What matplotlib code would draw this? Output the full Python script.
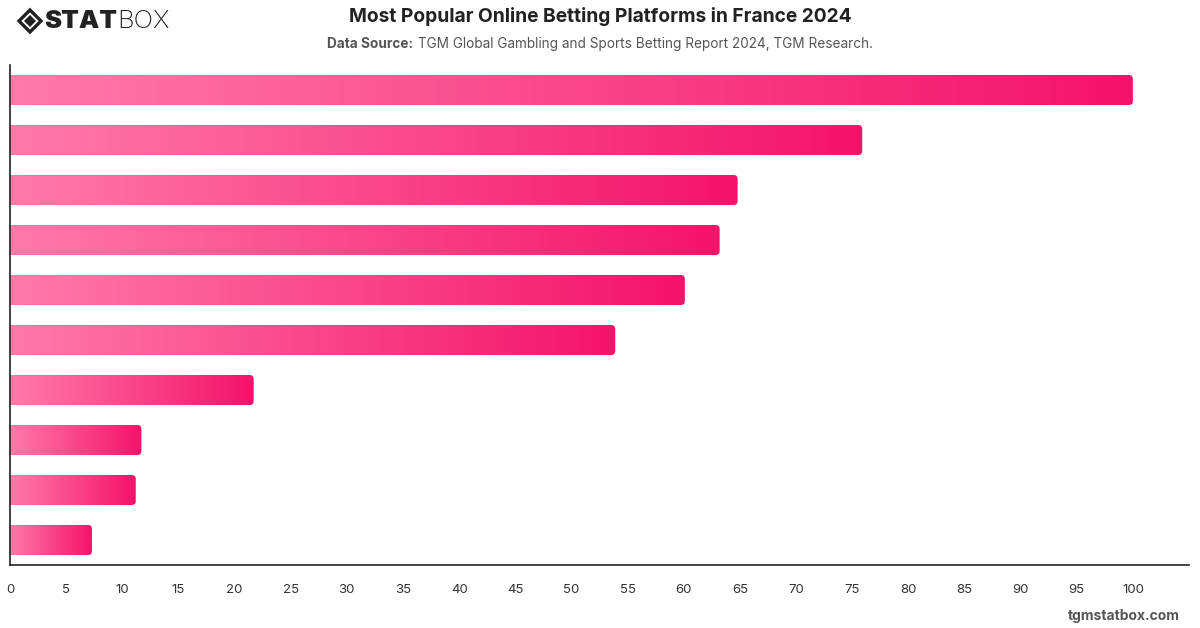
import numpy as np
import matplotlib
matplotlib.use("Agg")
import matplotlib.pyplot as plt
from matplotlib.path import Path
from matplotlib.patches import PathPatch, Polygon
from matplotlib.colors import LinearSegmentedColormap

plt.rcParams['font.family'] = ['Inter', 'DejaVu Sans']

# Data (top to bottom)
values = [100, 75.9, 64.8, 63.2, 60.1, 53.9, 21.7, 11.7, 11.2, 7.3]
xticks = list(range(0, 101, 5))
title = "Most Popular Online Betting Platforms in France 2024"
source_bold = "Data Source:"
source_text = " TGM Global Gambling and Sports Betting Report 2024, TGM Research."

W, H, DPI = 1200, 628, 100
fig = plt.figure(figsize=(W / DPI, H / DPI), dpi=DPI)
ax = fig.add_axes([10 / W, 1 - 565 / H, (1189 - 10) / W, (565 - 65) / H])

n = len(values)
ax.set_xlim(0, 105)
ax.set_ylim(n, 0)
ax.set_yticks([])
ax.set_xticks(xticks)
ax.set_xticklabels([str(t) for t in xticks])
ax.tick_params(axis='x', length=0, pad=14, labelsize=9.5, labelcolor='#333333')
for lbl in ax.get_xticklabels():
    lbl.set_x(lbl.get_position()[0])
for s in ['top', 'right']:
    ax.spines[s].set_visible(False)
for s in ['left', 'bottom']:
    ax.spines[s].set_color('#222222')
    ax.spines[s].set_linewidth(1.2)
    ax.spines[s].set_zorder(5)

cmap = LinearSegmentedColormap.from_list('pk', ['#ff7aa8', '#f4136a'])
grad = np.linspace(0, 1, 256).reshape(1, -1)

# pixel scales
px_per_x = ax.get_window_extent().width / 105.0
px_per_y = ax.get_window_extent().height / n
r = 4.0
rx, ry = r / px_per_x, r / px_per_y
bh = 0.6
for i, v in enumerate(values):
    y0 = i + (1 - bh) / 2
    y1 = y0 + bh
    x0 = 0
    x1 = v
    verts = [(x0, y0), (x1 - rx, y0), (x1, y0), (x1, y0 + ry),
             (x1, y1 - ry), (x1, y1), (x1 - rx, y1), (x0, y1), (x0, y0)]
    codes = [Path.MOVETO, Path.LINETO, Path.CURVE3, Path.CURVE3,
             Path.LINETO, Path.CURVE3, Path.CURVE3, Path.LINETO, Path.CLOSEPOLY]
    patch = PathPatch(Path(verts, codes), facecolor='none', edgecolor='none')
    ax.add_patch(patch)
    im = ax.imshow(grad, extent=[x0, x1, y1, y0], cmap=cmap, aspect='auto',
                   interpolation='bilinear', zorder=2)
    im.set_clip_path(patch)
ax.set_xlim(0, 105)
ax.set_ylim(n, 0)

# Title and subtitle
fig.text(600 / W, 1 - 17 / H, title, ha='center', va='center',
         fontsize=13.8, fontweight='bold', color='#222222')
t1 = fig.text(0, 1 - 44 / H, source_bold, ha='left', va='center',
              fontsize=9.8, fontweight='bold', color='#555555')
t2 = fig.text(0, 1 - 44 / H, source_text, ha='left', va='center',
              fontsize=9.8, color='#555555')
fig.canvas.draw()
rend = fig.canvas.get_renderer()
w1 = t1.get_window_extent(rend).width
w2 = t2.get_window_extent(rend).width
start = 600 - (w1 + w2) / 2
t1.set_x(start / W)
t2.set_x((start + w1) / W)

# Logo
def diamond(cxp, cyp, rad):
    return [((cxp + dx) / W, 1 - (cyp + dy) / H) for dx, dy in
            [(0, -rad), (rad, 0), (0, rad), (-rad, 0)]]
fig.patches.append(Polygon(diamond(30, 21, 11), closed=True, facecolor='none',
                           edgecolor='#222222', linewidth=2.4,
                           transform=fig.transFigure, figure=fig))
fig.patches.append(Polygon(diamond(30, 21, 6), closed=True, facecolor='#222222',
                           edgecolor='none', transform=fig.transFigure, figure=fig))
l1 = fig.text(44 / W, 1 - 21 / H, "STAT", ha='left', va='center', fontsize=18.5,
              fontweight='black', color='#222222')
fig.canvas.draw()
wl = l1.get_window_extent(rend).width
fig.text((44 + wl) / W, 1 - 21 / H, "BOX", ha='left', va='center', fontsize=18.5,
         fontweight='light', color='#222222')

fig.text(1180 / W, 1 - 616 / H, "tgmstatbox.com", ha='right', va='center',
         fontsize=10, fontweight='bold', color='#555555')

fig.savefig('out.png', dpi=DPI)
